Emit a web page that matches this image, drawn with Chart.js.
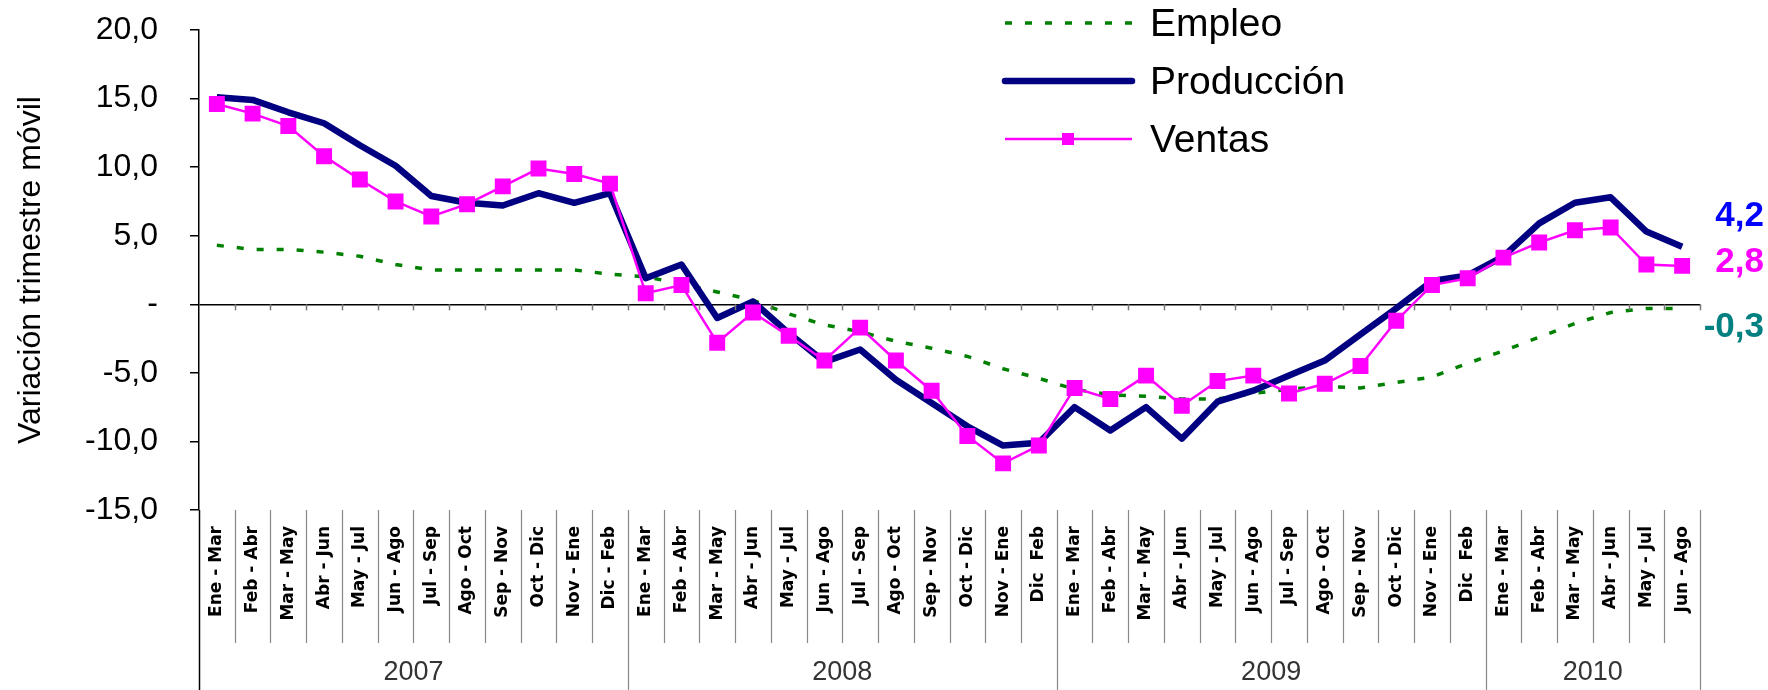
<!DOCTYPE html>
<html>
<head>
<meta charset="utf-8">
<script src="https://cdn.jsdelivr.net/npm/chart.js@4.4.1/dist/chart.umd.min.js"></script>
<style>
    html, body { margin: 0; padding: 0; background: #fff; }
    canvas { display: block; }
</style>
</head>
<body>
<canvas id="chart" width="1768" height="690"></canvas>
<script>
// Categories: moving quarters grouped by year
const years = ['2007', '2008', '2009', '2010'];
const periods = [
    'Ene - Mar', 'Feb - Abr', 'Mar - May', 'Abr - Jun', 'May - Jul', 'Jun - Ago',
    'Jul - Sep', 'Ago - Oct', 'Sep - Nov', 'Oct - Dic', 'Nov - Ene', 'Dic - Feb',
    'Ene - Mar', 'Feb - Abr', 'Mar - May', 'Abr - Jun', 'May - Jul', 'Jun - Ago',
    'Jul - Sep', 'Ago - Oct', 'Sep - Nov', 'Oct - Dic', 'Nov - Ene', 'Dic  Feb',
    'Ene - Mar', 'Feb - Abr', 'Mar - May', 'Abr - Jun', 'May - Jul', 'Jun - Ago',
    'Jul - Sep', 'Ago - Oct', 'Sep - Nov', 'Oct - Dic', 'Nov - Ene', 'Dic  Feb',
    'Ene - Mar', 'Feb - Abr', 'Mar - May', 'Abr - Jun', 'May - Jul', 'Jun - Ago'
];
const periodsPerYear = [12, 12, 12, 6];

// Series (variación %)
const empleo = [
    4.3, 4.0, 4.0, 3.8, 3.5, 2.9, 2.5, 2.5, 2.5, 2.5, 2.5, 2.2,
    2.0, 1.5, 0.9, 0.3, -0.7, -1.5, -2.0, -2.7, -3.2, -3.8, -4.7, -5.4,
    -6.2, -6.6, -6.7, -6.9, -6.9, -6.5, -6.2, -6.0, -6.1, -5.7, -5.3, -4.3,
    -3.4, -2.4, -1.4, -0.6, -0.3, -0.3
];
const produccion = [
    15.1, 14.9, 14.0, 13.2, 11.6, 10.1, 7.9, 7.4, 7.2, 8.1, 7.4, 8.1,
    1.9, 2.9, -1.0, 0.2, -2.1, -4.2, -3.3, -5.5, -7.2, -8.9, -10.3, -10.1,
    -7.5, -9.2, -7.5, -9.8, -7.1, -6.3, -5.2, -4.1, -2.2, -0.3, 1.7, 2.1,
    3.5, 5.9, 7.4, 7.8, 5.3, 4.2
];
const ventas = [
    14.6, 13.9, 13.0, 10.8, 9.1, 7.5, 6.4, 7.3, 8.6, 9.9, 9.5, 8.8,
    0.8, 1.4, -2.8, -0.6, -2.3, -4.1, -1.7, -4.1, -6.3, -9.6, -11.6, -10.3,
    -6.1, -6.9, -5.2, -7.4, -5.6, -5.2, -6.5, -5.8, -4.5, -1.2, 1.4, 1.9,
    3.4, 4.5, 5.4, 5.6, 2.9, 2.8
];

// Y axis ticks
const yTicks = [-15, -10, -5, 0, 5, 10, 15, 20];

const fmt = v => v.toFixed(1).replace('.', ',');
const FONT = "'Liberation Sans', Arial, sans-serif";

// Draws label separators, year groups, zero-line ticks, end values and the legend
const decorPlugin = {
    id: 'decor',
    afterDraw(chart) {
        const ctx = chart.ctx;
        const ys = chart.scales.y;
        const area = chart.chartArea;
        const n = periods.length;
        const w = (area.right - area.left) / n;
        const zeroY = ys.getPixelForValue(0);

        // year boundaries
        const bounds = [0];
        periodsPerYear.reduce((acc, c) => { bounds.push(acc + c); return acc + c; }, 0);

        ctx.save();
        // small ticks under the zero line
        ctx.strokeStyle = '#777';
        ctx.lineWidth = 1.5;
        for (let i = 1; i <= n; i++) {
            const bx = Math.round(area.left + i * w) + 0.5;
            ctx.beginPath();
            ctx.moveTo(bx, zeroY);
            ctx.lineTo(bx, zeroY + 6);
            ctx.stroke();
        }

        // separators between category labels
        for (let i = 0; i <= n; i++) {
            const bx = Math.round(area.left + i * w) + 0.5;
            const isYear = bounds.includes(i);
            ctx.strokeStyle = i === 0 ? '#000' : '#888';
            ctx.lineWidth = i === 0 ? 1.5 : 1.2;
            ctx.beginPath();
            ctx.moveTo(bx, area.bottom);
            ctx.lineTo(bx, isYear ? chart.height : area.bottom + 133);
            ctx.stroke();
        }

        // year labels
        ctx.fillStyle = '#333';
        ctx.font = '27px ' + FONT;
        ctx.textAlign = 'center';
        ctx.textBaseline = 'middle';
        years.forEach((yr, k) => {
            const cx = area.left + ((bounds[k] + bounds[k + 1]) / 2) * w;
            ctx.fillText(yr, cx, 673);
        });

        // last values at the right
        const lastE = empleo[empleo.length - 1];
        const lastP = produccion[produccion.length - 1];
        const lastV = ventas[ventas.length - 1];
        ctx.font = 'bold 35px ' + FONT;
        ctx.textAlign = 'right';
        ctx.fillStyle = '#0000FF';
        ctx.fillText(fmt(lastP), chart.width - 4, ys.getPixelForValue(lastP) - 30);
        ctx.fillStyle = '#FF00FF';
        ctx.fillText(fmt(lastV), chart.width - 4, ys.getPixelForValue(lastV) - 4);
        ctx.fillStyle = '#008080';
        ctx.fillText(fmt(lastE), chart.width - 4, ys.getPixelForValue(lastE) + 19);

        // legend
        const rows = [23, 81, 139];
        ctx.font = '39px ' + FONT;
        ctx.textAlign = 'left';
        chart.data.datasets.forEach((ds, k) => {
            const ly = rows[k];
            ctx.strokeStyle = ds.borderColor;
            ctx.lineWidth = ds.borderWidth;
            ctx.lineCap = k === 1 ? 'round' : 'butt';
            ctx.setLineDash(ds.borderDash || []);
            ctx.beginPath();
            ctx.moveTo(1005, ly);
            ctx.lineTo(1132, ly);
            ctx.stroke();
            ctx.setLineDash([]);
            if (ds.pointRadius > 0) {
                ctx.fillStyle = ds.pointBackgroundColor;
                ctx.fillRect(1062, ly - 6, 12, 12);
            }
            ctx.fillStyle = '#000';
            ctx.fillText(ds.label, 1150, ly + 2);
        });
        ctx.restore();
    }
};

const config = {
    type: 'line',
    data: {
        labels: periods,
        datasets: [{
            label: 'Empleo',
            data: empleo,
            borderColor: '#008000',
            borderWidth: 3.5,
            borderDash: [7, 13],
            pointRadius: 0,
            tension: 0,
            order: 3
        }, {
            label: 'Producción',
            data: produccion,
            borderColor: '#000080',
            borderWidth: 6.5,
            pointRadius: 0,
            tension: 0,
            borderJoinStyle: 'round',
            order: 2
        }, {
            label: 'Ventas',
            data: ventas,
            borderColor: '#FF00FF',
            borderWidth: 2.5,
            pointStyle: 'rect',
            pointRadius: 9.5,
            pointBackgroundColor: '#FF00FF',
            pointBorderColor: '#FF00FF',
            tension: 0,
            order: 1
        }]
    },
    options: {
        responsive: false,
        animation: false,
        devicePixelRatio: 1,
        layout: {
            padding: { top: 30, right: 68, bottom: 0, left: 0 }
        },
        plugins: {
            legend: { display: false },
            tooltip: { enabled: false }
        },
        scales: {
            x: {
                type: 'category',
                offset: true,
                grid: { display: false },
                border: { display: false },
                ticks: {
                    autoSkip: false,
                    minRotation: 90,
                    maxRotation: 90,
                    padding: 8,
                    color: '#000',
                    font: { family: "'DejaVu Sans', sans-serif", size: 17, weight: 'bold' }
                },
                afterFit(scale) {
                    scale.height = 180;
                    scale.paddingLeft = 0;
                    scale.paddingRight = 0;
                }
            },
            y: {
                min: -15,
                max: 20,
                afterBuildTicks(scale) {
                    scale.ticks = yTicks.map(v => ({ value: v }));
                },
                grid: {
                    color: c => (c.tick && c.tick.value === 0) ? '#000' : 'rgba(0,0,0,0)',
                    lineWidth: 1.5,
                    tickColor: '#000',
                    tickLength: 9
                },
                border: { display: true, color: '#000', width: 1.5 },
                ticks: {
                    padding: 32,
                    color: '#000',
                    font: { family: FONT, size: 32 },
                    callback: v => v === 0 ? '-' : fmt(v)
                },
                title: {
                    display: true,
                    text: 'Variación trimestre móvil',
                    color: '#000',
                    font: { family: FONT, size: 32 },
                    padding: { top: 12, bottom: 0 }
                },
                afterFit(scale) {
                    scale.width = 199;
                    scale.paddingTop = 0;
                    scale.paddingBottom = 0;
                }
            }
        }
    },
    plugins: [decorPlugin]
};

new Chart(document.getElementById('chart').getContext('2d'), config);
</script>
</body>
</html>
